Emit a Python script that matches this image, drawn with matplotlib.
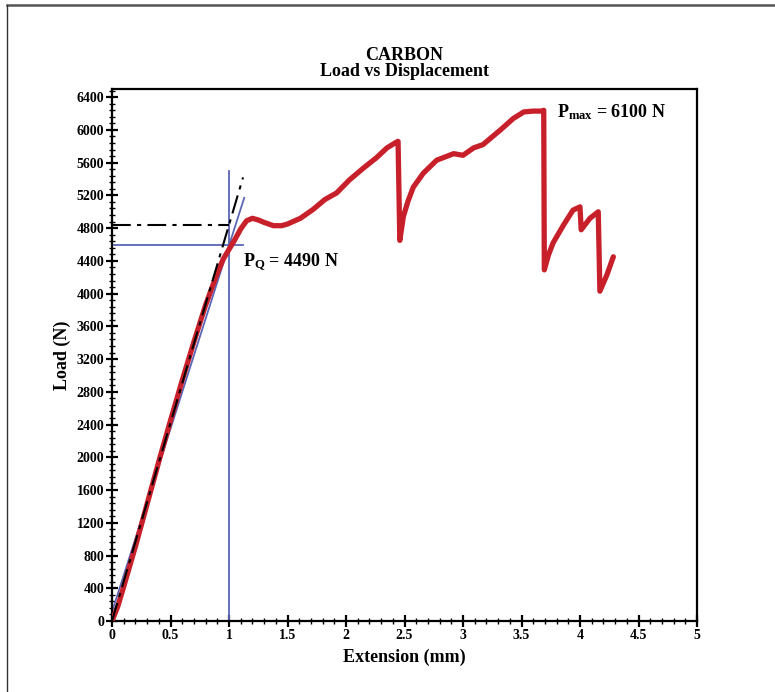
import matplotlib
matplotlib.use("Agg")
import matplotlib.pyplot as plt
from matplotlib.lines import Line2D
from matplotlib.ticker import MultipleLocator, FuncFormatter

plt.rcParams['font.family'] = ['Liberation Serif', 'DejaVu Serif']
plt.rcParams['font.weight'] = 'bold'
plt.rcParams['mathtext.fontset'] = 'custom'
plt.rcParams['mathtext.rm'] = 'Liberation Serif:bold'
plt.rcParams['mathtext.bf'] = 'Liberation Serif:bold'
plt.rcParams['mathtext.it'] = 'Liberation Serif:bold'

# Load-extension record of the carbon specimen
extension = [0.0, 0.05, 0.1, 0.2, 0.3, 0.41, 0.5, 0.6, 0.7, 0.8, 0.9, 0.95, 1.0, 1.05,
             1.1, 1.15, 1.2, 1.25, 1.3, 1.38, 1.45, 1.5, 1.61, 1.72, 1.82, 1.92, 2.03,
             2.15, 2.26, 2.35, 2.43, 2.445, 2.46, 2.49, 2.53, 2.575, 2.66, 2.775, 2.92,
             3.0, 3.09, 3.17, 3.32, 3.43, 3.52, 3.6, 3.68, 3.69, 3.695, 3.73, 3.77, 3.86,
             3.94, 4.0, 4.01, 4.085, 4.156, 4.17, 4.23, 4.285]
load = [0, 180, 420, 910, 1430, 2000, 2450, 2940, 3410, 3860, 4250, 4420, 4540, 4660,
        4790, 4890, 4920, 4900, 4870, 4830, 4830, 4850, 4920, 5030, 5150, 5230, 5390,
        5535, 5660, 5780, 5850, 5860, 4650, 4940, 5130, 5300, 5470, 5630, 5710,
        5690, 5780, 5820, 6000, 6140, 6220, 6230, 6230, 6240, 4290, 4470, 4620, 4840,
        5020, 5060, 4780, 4920, 5000, 4030, 4230, 4450]

# Construction lines for the PQ determination
secant_x = [0.0, 1.13]
secant_y = [110, 5170]
tangent_x = [0.0, 1.12]
tangent_y = [0, 5420]
p5_load = 4840
pq_line_load = 4600
pq_extension = 1.0
vert_top = 5500

pq_value = 4490
pmax_value = 6100

fig = plt.figure(figsize=(7.75, 6.92), dpi=100)
ax = fig.add_axes([112 / 775, 1 - 621 / 692, 585 / 775, 532 / 692])

red = '#c8202a'
blue = '#5b66b6'
dashdot = (0, (9, 3, 2, 3))

ax.plot([pq_extension, pq_extension], [0, vert_top], color=blue, lw=1.3, zorder=2)
ax.plot([0, 1.117], [pq_line_load, pq_line_load], color=blue, lw=1.3, zorder=2)
ax.plot(secant_x, secant_y, color=blue, lw=1.3, zorder=2)
ax.plot(extension, load, color=red, lw=3.8, solid_joinstyle='round',
        solid_capstyle='round', zorder=3)
ax.plot(tangent_x, tangent_y, color='black', lw=1.5, ls=dashdot, zorder=4)
ax.plot([0, pq_extension], [p5_load, p5_load], color='black', lw=1.5, ls=dashdot, zorder=4)

ax.set_xlim(0, 5)
ax.set_ylim(0, 6500)
ax.xaxis.set_major_locator(MultipleLocator(0.5))
ax.xaxis.set_minor_locator(MultipleLocator(0.1))
ax.yaxis.set_major_locator(MultipleLocator(400))
ax.yaxis.set_minor_locator(MultipleLocator(80))
ax.xaxis.set_major_formatter(FuncFormatter(lambda v, p: f"{v:g}"))

ax.tick_params(which='major', direction='inout', length=9, width=1.6, labelsize=10,
               top=False, right=False, pad=1)
ax.tick_params(which='minor', direction='inout', length=5, width=1.0,
               top=False, right=False)
for lbl in ax.get_xticklabels() + ax.get_yticklabels():
    lbl.set_fontweight('bold')
for s in ax.spines.values():
    s.set_linewidth(1.6)

ax.set_xlabel('Extension (mm)', fontsize=13, fontweight='bold', labelpad=5)
ax.set_ylabel('Load (N)', fontsize=13, fontweight='bold', labelpad=4)
ax.set_title('CARBON\nLoad vs Displacement', fontsize=13, fontweight='bold',
             linespacing=0.95, pad=9)

ax.text(1.12, 4380, r'P$_{\mathrm{Q}}$ = ' + f'{pq_value} N', fontsize=13,
        fontweight='bold', va='center', ha='left')
ax.text(3.8, 6220, r'P$_{\mathrm{max}}$ = ' + f'{pmax_value} N', fontsize=13,
        fontweight='bold', va='center', ha='left')

# Outer frame
fig.add_artist(Line2D([7 / 775, 1], [1 - 5 / 692, 1 - 5 / 692], transform=fig.transFigure,
                      color='#555555', lw=1.8))
fig.add_artist(Line2D([7 / 775, 7 / 775], [0, 1 - 5 / 692], transform=fig.transFigure,
                      color='#333333', lw=1.0))

fig.savefig('out.png', dpi=100)
